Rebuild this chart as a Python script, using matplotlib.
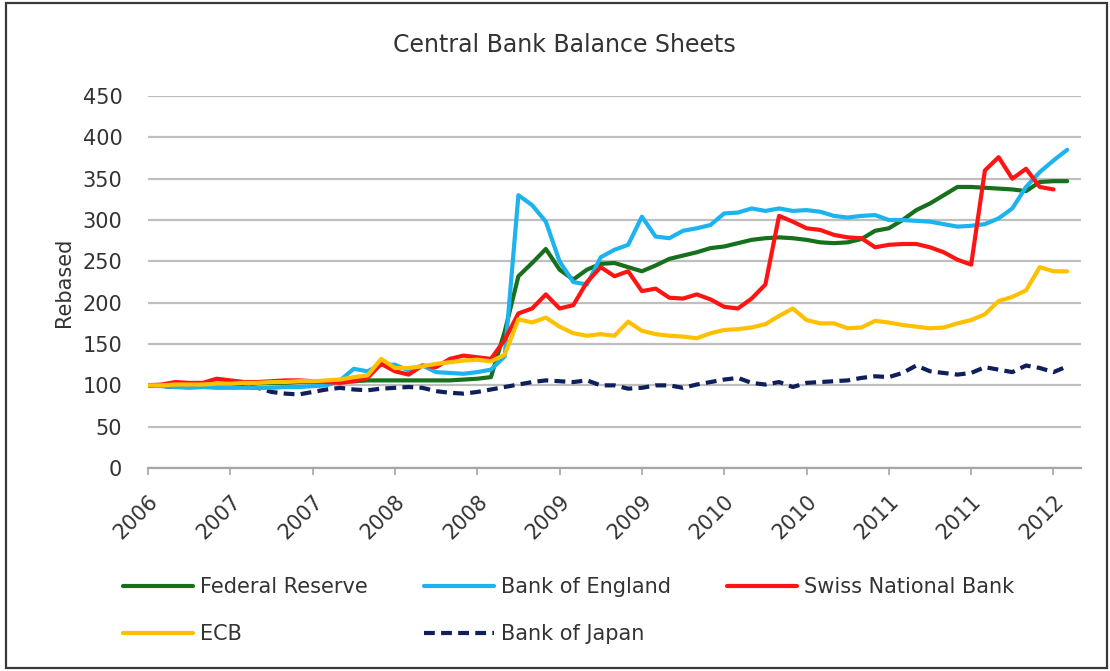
import matplotlib
matplotlib.use("Agg")
import matplotlib.pyplot as plt
import matplotlib.transforms as mtransforms
from matplotlib.patches import Rectangle
import numpy as np

plt.rcParams['font.family'] = ['DejaVu Sans']
plt.rcParams['text.color'] = '#333333'
plt.rcParams['xtick.labelcolor'] = '#333333'
plt.rcParams['ytick.labelcolor'] = '#333333'
plt.rcParams['axes.labelcolor'] = '#333333'

# Monthly observations, Jul 2006 .. Feb 2012 (index = months since Jul 2006)
fed = [100, 100, 101, 101, 101, 102, 102, 102, 103, 103, 103, 104, 104, 105, 105, 105, 106, 106,
       106, 106, 106, 106, 106, 107, 108, 110, 165, 232, 248, 265, 240, 228, 240, 247, 248, 243,
       238, 245, 253, 257, 261, 266, 268, 272, 276, 278, 279, 278, 276, 273, 272, 273, 277, 287,
       290, 300, 312, 320, 330, 340, 340, 339, 338, 337, 335, 346, 347, 347]
boe = [100, 99, 98, 97, 98, 97, 97, 97, 97, 97, 98, 98, 99, 100, 106, 120, 117, 125,
       125, 118, 124, 116, 115, 114, 116, 119, 135, 330, 318, 298, 250, 225, 222, 255, 264, 270,
       304, 280, 278, 287, 290, 294, 308, 309, 314, 311, 314, 311, 312, 310, 305, 303, 305, 306,
       300, 300, 299, 298, 295, 292, 293, 295, 302, 314, 340, 358, 372, 385]
snb = [100, 101, 104, 103, 103, 108, 106, 104, 104, 105, 106, 106, 105, 104, 103, 105, 109, 126,
       117, 113, 124, 122, 132, 136, 134, 132, 155, 187, 193, 210, 193, 197, 225, 243, 232, 238,
       214, 217, 206, 205, 210, 204, 195, 193, 205, 222, 305, 298, 290, 288, 282, 279, 278, 267,
       270, 271, 271, 267, 261, 252, 246, 360, 376, 350, 362, 340, 337, np.nan]
ecb = [100, 100, 101, 101, 101, 102, 102, 103, 103, 104, 104, 105, 105, 106, 107, 110, 112, 132,
       121, 121, 123, 126, 128, 130, 131, 129, 137, 180, 176, 182, 171, 163, 160, 162, 160, 177,
       166, 162, 160, 159, 157, 163, 167, 168, 170, 174, 184, 193, 179, 175, 175, 169, 170, 178,
       176, 173, 171, 169, 170, 175, 179, 186, 202, 207, 215, 243, 238, 238]
boj = [100, 99, 98, 99, 100, 101, 99, 98, 97, 92, 90, 89, 92, 95, 97, 95, 94, 96,
       97, 98, 97, 93, 91, 90, 92, 95, 98, 101, 104, 106, 105, 104, 106, 100, 100, 96,
       97, 100, 100, 97, 101, 104, 107, 109, 103, 101, 104, 98, 103, 104, 105, 106, 109, 111,
       110, 115, 124, 117, 115, 113, 115, 122, 119, 116, 124, 121, 116, 123]

tick_labels = ['2006', '2007', '2007', '2008', '2008', '2009', '2009',
               '2010', '2010', '2011', '2011', '2012']
series_names = ['Federal Reserve', 'Bank of England', 'Swiss National Bank', 'ECB', 'Bank of Japan']

months = np.arange(len(fed))
tick_pos = np.arange(len(tick_labels)) * 6

fig = plt.figure(figsize=(11.1, 6.71), dpi=100)
ax = fig.add_axes([0.1333, 0.3025, 0.8405, 0.5544])

lw = 3.0
h1, = ax.plot(months, fed, color='#16701c', lw=lw, solid_capstyle='round', zorder=3)
h2, = ax.plot(months, boe, color='#1cb3ef', lw=lw, solid_capstyle='round', zorder=3)
h3, = ax.plot(months, snb, color='#ff1414', lw=lw, solid_capstyle='round', zorder=3)
h4, = ax.plot(months, ecb, color='#ffc000', lw=lw, solid_capstyle='round', zorder=3)
h5, = ax.plot(months, boj, color='#0f1f5c', lw=lw, linestyle=(0, (2.6, 1.5)), zorder=2.5)
handles = [h1, h2, h3, h4, h5]

ax.set_xlim(0, 68)
ax.set_ylim(0, 450)
ax.set_yticks(np.arange(0, 451, 50))
ax.yaxis.grid(True, color='#bfbfbf', lw=1.6)
ax.set_axisbelow(True)
ax.set_xticks(tick_pos)
ax.set_xticklabels(tick_labels, rotation=45, ha='right', va='center',
                   rotation_mode='anchor', fontsize=15)
ax.tick_params(axis='x', direction='out', length=5, color='#a6a6a6', width=1.2, pad=16.5)
offset = mtransforms.ScaledTranslation(7 / 100, 0, fig.dpi_scale_trans)
for lab in ax.get_xticklabels():
    lab.set_transform(lab.get_transform() + offset)
ax.tick_params(axis='y', length=0, labelsize=15, pad=18.5)
for s in ['top', 'right', 'left']:
    ax.spines[s].set_visible(False)
ax.spines['bottom'].set_color('#a6a6a6')
ax.spines['bottom'].set_linewidth(1.6)
ax.set_ylabel('Rebased', fontsize=15, labelpad=6)

fig.text(0.508, 0.933, 'Central Bank Balance Sheets', ha='center', va='center', fontsize=17)

leg_pos = [(0.1108, 0.1252), (0.382, 0.1252), (0.655, 0.1252), (0.1108, 0.0551), (0.382, 0.0551)]
for h, name, (lx, ly) in zip(handles, series_names, leg_pos):
    fig.legend([h], [name], loc='center left', bbox_to_anchor=(lx, ly), frameon=False,
               fontsize=15, handlelength=3.36, handletextpad=0.34, borderpad=0,
               borderaxespad=0)

fig.patches.append(Rectangle((0.005, 0.004), 0.992, 0.992, transform=fig.transFigure,
                             fill=False, edgecolor='#3a3a3a', lw=1.6))

fig.savefig('out.png', dpi=100)
